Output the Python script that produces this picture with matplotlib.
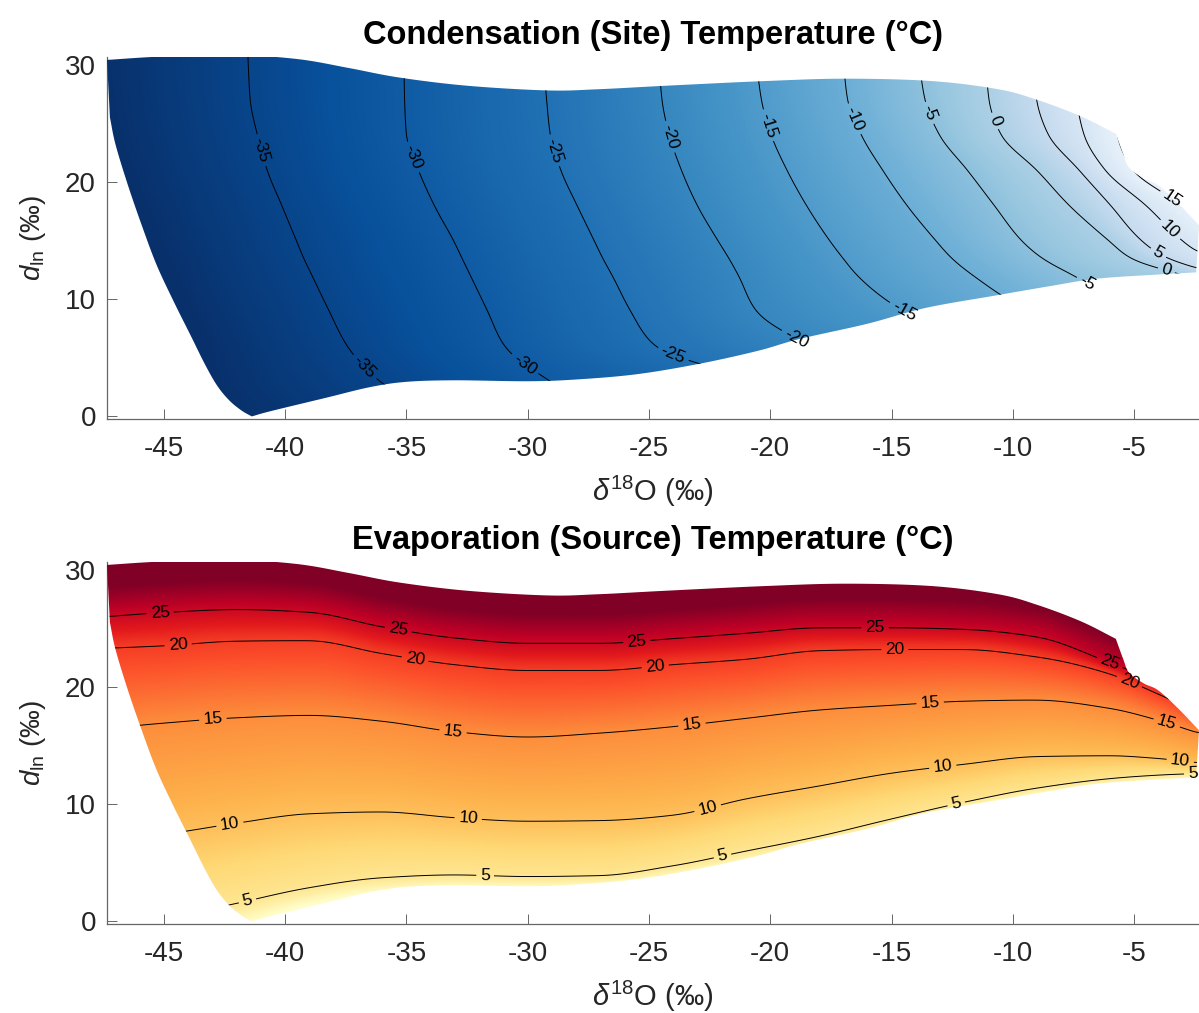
import numpy as np
import matplotlib
matplotlib.use('Agg')
import matplotlib.pyplot as plt
from matplotlib.patches import Polygon

plt.rcParams['font.family'] = ['Liberation Sans', 'DejaVu Sans']
plt.rcParams['axes.unicode_minus'] = False
plt.rcParams['mathtext.fontset'] = 'custom'
plt.rcParams['mathtext.rm'] = 'Liberation Sans'
plt.rcParams['mathtext.it'] = 'Liberation Sans:italic'
plt.rcParams['mathtext.bf'] = 'Liberation Sans:bold'
plt.rcParams['contour.negative_linestyle'] = 'solid'

# ---------------- axes ranges / ticks ----------------
x_range = [-47.35, -2.32]
y_range = [-0.22, 30.65]
x_ticks = [-45, -40, -35, -30, -25, -20, -15, -10, -5]
y_ticks = [0, 10, 20, 30]

# ---------------- domain outline (d18O, d_ln) ----------------
upper_x = [-47.35, -45.5, -43.5, -41.9, -39.4, -37.35, -35.3, -32.5, -29.2, -27.1, -24.3,
           -20.2, -16.9, -13.35, -10.6, -9.0, -7.2, -5.75]
upper_y = [30.4, 30.65, 30.8, 30.85, 30.45, 29.7, 28.9, 28.2, 27.8, 27.9, 28.2,
           28.6, 28.8, 28.6, 27.9, 27.0, 25.6, 24.1]
notch_x = [-5.75, -5.45, -5.2, -4.6, -4.0, -3.2, -2.32]
notch_y = [24.1, 22.4, 21.2, 20.3, 19.7, 18.2, 16.3]
lower_x = [-2.32, -4.0, -6.5, -8.5, -10.6, -13.6, -16.0, -18.8, -20.5, -22.9, -25.5,
           -28.0, -30.0, -33.0, -35.0, -36.5, -38.3, -40.6, -41.38]
lower_y = [12.3, 12.1, 11.75, 11.1, 10.35, 9.25, 7.9, 6.6, 5.6, 4.5, 3.6,
           3.15, 3.0, 3.08, 2.95, 2.5, 1.6, 0.45, 0.0]
left_x = [-41.38, -41.8, -42.3, -42.8, -43.3, -43.9, -44.6, -45.3, -45.9, -46.5, -47.0, -47.23]
left_y = [0.0, 0.5, 1.35, 2.6, 4.4, 6.9, 9.8, 12.9, 16.2, 19.8, 23.2, 25.5]
edge_x = [-47.23, -47.35]
edge_y = [25.5, 30.4]

# ---------------- condensation (site) temperature ----------------
# d18O position of each isotherm at fixed d_ln rows
site_rows = [0, 3, 6, 9, 12, 13.5, 15, 18, 21, 24, 27, 31]
site_levels = [-45, -40, -35, -30, -25, -20, -15, -10, -5, 0, 5, 10, 15, 20]
site_m45 = [-48.5, -49.3, -49.6, -50.3, -51.0, -51.3, -51.6, -52.2, -52.8, -53.3, -53.6, -53.8]
site_m40 = [-42.5, -43.3, -43.6, -44.3, -45.0, -45.3, -45.6, -46.2, -46.8, -47.3, -47.6, -47.8]
site_m35 = [-33.5, -36.1, -37.45, -38.2, -38.9, -39.25, -39.55, -40.15, -40.75, -41.15, -41.45, -41.55]
site_m30 = [-26.5, -29.1, -30.95, -31.65, -32.35, -32.7, -33.05, -33.85, -34.5, -35.0, -35.07, -35.1]
site_m25 = [-17.0, -20.5, -24.75, -25.75, -26.5, -26.9, -27.25, -27.95, -28.62, -29.05, -29.2, -29.35]
site_m20 = [-10.0, -14.0, -18.3, -20.6, -21.3, -21.7, -22.15, -23.0, -23.65, -24.15, -24.45, -24.6]
site_m15 = [-5.0, -8.0, -11.0, -14.5, -16.4, -17.0, -17.55, -18.5, -19.3, -19.95, -20.35, -20.6]
site_m10 = [1.0, -2.0, -5.0, -9.3, -11.6, -12.5, -13.15, -14.35, -15.35, -16.23, -16.8, -17.0]
site_m05 = [4.0, 1.0, -2.0, -5.0, -7.5, -8.8, -9.65, -10.75, -11.85, -13.0, -13.6, -13.9]
site_p00 = [7.0, 5.0, 3.0, 1.0, -2.5, -5.0, -5.9, -7.6, -8.95, -10.45, -10.95, -11.1]
site_p05 = [8.0, 6.0, 4.0, 2.0, -1.5, -3.7, -4.75, -5.95, -7.2, -8.5, -9.0, -9.2]
site_p10 = [9.0, 7.0, 5.0, 3.0, -0.5, -2.0, -3.0, -4.5, -6.2, -7.05, -7.35, -7.5]
site_p15 = [10.0, 8.0, 6.0, 4.0, 0.5, -0.5, -1.5, -3.1, -5.12, -5.74, -5.9, -6.0]
site_p20 = [12.0, 10.0, 8.0, 6.0, 2.5, 1.5, 0.5, -1.0, -3.0, -3.6, -3.9, -4.0]
site_contour_levels = [-35, -30, -25, -20, -15, -10, -5, 0, 5, 10, 15]

# ---------------- evaporation (source) temperature ----------------
# d_ln position of each isotherm at fixed d18O columns
src_cols = [-47.35, -45, -42, -39, -36, -33, -30, -27, -24, -21, -18, -15, -12, -9, -6, -4, -2.32]
src_levels = [-5, 0, 5, 10, 15, 20, 25, 30, 35]
src_m05 = [-8.0, -5.5, -3.6, -1.6, -0.6, -0.3, -0.3, 0.0, 0.8, 2.0, 3.3, 5.0, 6.6, 7.9, 8.6, 8.9, 9.1]
src_p00 = [-5.0, -2.5, -0.6, 1.4, 2.4, 2.7, 2.7, 3.0, 3.8, 5.0, 6.3, 8.0, 9.6, 10.9, 11.6, 11.9, 12.1]
src_p05 = [-1.0, 0.05, 1.4, 2.7, 3.55, 3.8, 3.65, 3.7, 4.55, 5.8, 7.05, 8.5, 9.9, 11.1, 12.0, 12.35, 12.55]
src_p10 = [6.9, 7.4, 8.35, 9.15, 9.3, 8.8, 8.5, 8.55, 9.0, 10.4, 11.5, 12.6, 13.35, 14.0, 14.05, 13.8, 13.4]
src_p15 = [16.5, 16.95, 17.4, 17.6, 17.1, 16.2, 15.75, 16.1, 16.65, 17.35, 18.05, 18.45, 18.8, 18.9, 18.2, 17.2, 16.1]
src_p20 = [23.4, 23.6, 24.0, 24.05, 22.95, 22.0, 21.5, 21.5, 22.0, 22.45, 23.2, 23.3, 23.3, 22.65, 21.3, 19.55, 17.8]
src_p25 = [26.0, 26.35, 26.6, 26.35, 25.1, 24.15, 23.7, 23.7, 24.1, 24.55, 25.0, 25.0, 24.85, 24.2, 21.9, 20.2, 18.8]
src_p30 = [28.5, 28.85, 29.1, 28.85, 27.6, 26.65, 26.2, 26.2, 26.6, 27.05, 27.5, 27.5, 27.35, 26.7, 24.4, 22.7, 21.3]
src_p35 = [32.0, 32.35, 32.6, 32.35, 31.1, 30.15, 29.7, 29.7, 30.1, 30.55, 31.0, 31.0, 30.85, 30.2, 27.9, 26.2, 24.8]
src_contour_levels = [5, 10, 15, 20, 25]

# ---------------- label placement (layout) ----------------
site_label_pos = {
    -35: [(-41.0, 22.7), (-36.85, 3.95)],
    -30: [(-34.73, 22.1), (-30.24, 4.1)],
    -25: [(-28.88, 22.7), (-24.13, 4.6)],
    -20: [(-24.22, 23.8), (-18.9, 6.75)],
    -15: [(-20.13, 24.8), (-14.53, 8.8)],
    -10: [(-16.5, 25.4)],
    -5: [(-13.41, 25.9), (-6.81, 11.8)],
    0: [(-10.73, 25.2), (-3.64, 12.65)],
    5: [(-4.01, 13.9)],
    10: [(-3.43, 16.1)],
    15: [(-3.43, 18.6)],
}
src_label_pos = {
    25: [(-45.16, 26.3), (-35.35, 24.7), (-25.5, 23.85), (-15.68, 25.0), (-6.07, 21.7)],
    20: [(-44.42, 23.7), (-34.65, 22.3), (-24.75, 21.9), (-14.86, 23.3), (-5.16, 20.6)],
    15: [(-42.98, 17.2), (-33.08, 16.2), (-23.23, 16.8), (-13.41, 18.7), (-3.64, 17.0)],
    10: [(-42.28, 8.25), (-32.46, 8.65), (-22.6, 9.8), (-12.88, 13.1), (-3.1, 13.6)],
    5: [(-41.54, 1.6), (-31.76, 3.7), (-21.95, 5.4), (-12.3, 9.7), (-2.57, 12.3)],
}

# ---------------- helpers ----------------
xg = np.linspace(x_range[0], x_range[1], 900)
yg = np.linspace(y_range[0], y_range[1], 450)


def pchip(xq, xs, ys):
    xs = np.asarray(xs, float)
    ys = np.asarray(ys, float)
    h = np.diff(xs)
    d = np.diff(ys) / h
    m = np.zeros_like(ys)
    for k in range(1, len(xs) - 1):
        if d[k - 1] * d[k] > 0:
            w1 = 2 * h[k] + h[k - 1]
            w2 = h[k] + 2 * h[k - 1]
            m[k] = (w1 + w2) / (w1 / d[k - 1] + w2 / d[k])
    m[0] = d[0]
    m[-1] = d[-1]
    xq = np.clip(xq, xs[0], xs[-1])
    i = np.clip(np.searchsorted(xs, xq) - 1, 0, len(xs) - 2)
    hh = xs[i + 1] - xs[i]
    t = (xq - xs[i]) / hh
    h00 = 2 * t ** 3 - 3 * t ** 2 + 1
    h10 = t ** 3 - 2 * t ** 2 + t
    h01 = -2 * t ** 3 + 3 * t ** 2
    h11 = t ** 3 - t ** 2
    return h00 * ys[i] + h10 * hh * m[i] + h01 * ys[i + 1] + h11 * hh * m[i + 1]


def monotone(P):
    for k in range(1, P.shape[0]):
        P[k] = np.maximum(P[k], P[k - 1] + 1e-3)
    return P


def blur(Z, s):
    r = int(3 * s)
    k = np.exp(-0.5 * (np.arange(-r, r + 1) / s) ** 2)
    k /= k.sum()
    Zp = np.pad(Z, ((r, r), (0, 0)), mode='edge')
    Z = np.array([np.convolve(Zp[:, i], k, 'valid') for i in range(Zp.shape[1])]).T
    Zp = np.pad(Z, ((0, 0), (r, r)), mode='edge')
    Z = np.array([np.convolve(Zp[j], k, 'valid') for j in range(Zp.shape[0])])
    return Z


def field_from_rows(rows, pos, levels):
    P = monotone(np.array([pchip(yg, rows, p) for p in pos]))  # (L, ny)
    Z = np.empty((len(yg), len(xg)))
    for j in range(len(yg)):
        Z[j] = np.interp(xg, P[:, j], levels)
    return Z


def field_from_cols(cols, pos, levels):
    P = monotone(np.array([pchip(xg, cols, p) for p in pos]))  # (L, nx)
    Z = np.empty((len(yg), len(xg)))
    for i in range(len(xg)):
        Z[:, i] = np.interp(yg, P[:, i], levels)
    return Z


def catmull(xs, ys, n=14):
    P = np.column_stack([xs, ys]).astype(float)
    P = np.vstack([2 * P[0] - P[1], P, 2 * P[-1] - P[-2]])
    out = []
    t = np.linspace(0, 1, n, endpoint=False)[:, None]
    for i in range(1, len(P) - 2):
        p0, p1, p2, p3 = P[i - 1], P[i], P[i + 1], P[i + 2]
        out.append(0.5 * (2 * p1 + (-p0 + p2) * t + (2 * p0 - 5 * p1 + 4 * p2 - p3) * t ** 2
                          + (-p0 + 3 * p1 - 3 * p2 + p3) * t ** 3))
    out.append(P[-2][None, :])
    return np.vstack(out)


site_Z = blur(field_from_rows(site_rows,
                              [site_m45, site_m40, site_m35, site_m30, site_m25, site_m20, site_m15,
                               site_m10, site_m05, site_p00, site_p05, site_p10, site_p15, site_p20],
                              site_levels), 5)
src_Z = blur(field_from_cols(src_cols,
                             [src_m05, src_p00, src_p05, src_p10, src_p15, src_p20, src_p25, src_p30, src_p35],
                             src_levels), 4)

outline = np.vstack([
    catmull(upper_x, upper_y),
    catmull(notch_x, notch_y)[1:],
    catmull(lower_x, lower_y)[1:],
    catmull(left_x, left_y)[1:],
    np.column_stack([edge_x, edge_y])[1:],
])

fig = plt.figure(figsize=(11.99, 10.13), dpi=100)
ax1 = fig.add_axes([107 / 1199, 1 - 419 / 1013, 1092 / 1199, 362 / 1013])
ax2 = fig.add_axes([107 / 1199, 1 - 924 / 1013, 1092 / 1199, 362 / 1013])


def draw(ax, Z, cmap, vmin, vmax, clevels, label_pos, title):
    clip = Polygon(outline, closed=True, transform=ax.transData)
    im = ax.imshow(Z, extent=[x_range[0], x_range[1], y_range[0], y_range[1]], origin='lower',
                   cmap=cmap, vmin=vmin, vmax=vmax, interpolation='bilinear', aspect='auto', zorder=1)
    im.set_clip_path(clip)
    for L in clevels:
        cs = ax.contour(xg, yg, Z, levels=[L], colors='k', linewidths=0.7, zorder=2)
        cs.set_clip_path(clip)
        ax.clabel(cs, [L], inline=True, fmt='%g', fontsize=12.5, manual=label_pos[L],
                  inline_spacing=4)
    ax.set_xlim(x_range)
    ax.set_ylim(y_range)
    ax.set_xticks(x_ticks)
    ax.set_yticks(y_ticks)
    ax.set_axisbelow(True)
    for s in ['top', 'right']:
        ax.spines[s].set_visible(False)
    for s in ['left', 'bottom']:
        ax.spines[s].set_color('#666666')
        ax.spines[s].set_linewidth(0.9)
        ax.spines[s].set_zorder(0.5)
    ax.tick_params(axis='both', direction='in', length=7, width=0.7, color='#666666',
                   labelsize=20, labelcolor='#262626')
    ax.tick_params(axis='x', pad=12)
    ax.tick_params(axis='y', pad=8)
    ax.set_xlabel(r'$\delta^{18}$O (‰)', fontsize=21, color='#262626', labelpad=9)
    ax.set_ylabel(r'$d_{\mathrm{ln}}$ (‰)', fontsize=20, color='#262626', labelpad=12)
    ax.set_title(title, fontsize=23.5, fontweight='bold', pad=9)


draw(ax1, site_Z, 'Blues_r', -40, 20, site_contour_levels, site_label_pos,
     'Condensation (Site) Temperature (°C)')
draw(ax2, src_Z, 'YlOrRd', 0, 30, src_contour_levels, src_label_pos,
     'Evaporation (Source) Temperature (°C)')

fig.savefig('out.png', dpi=100)
